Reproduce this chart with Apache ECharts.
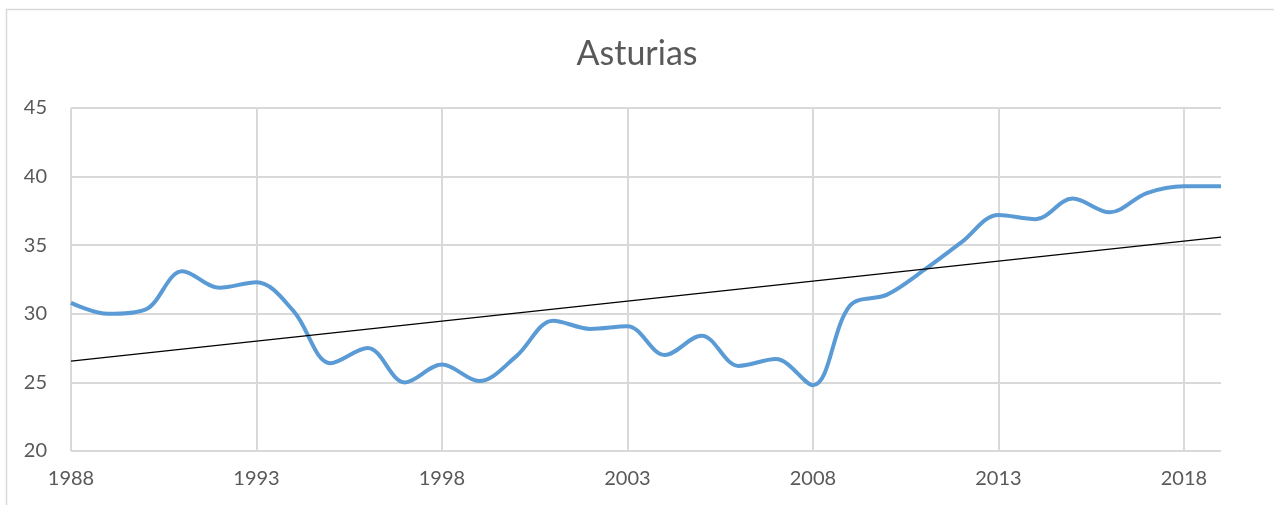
<!DOCTYPE html>
<html>
<head>
<meta charset="utf-8">
<script src="https://cdn.jsdelivr.net/npm/echarts@6/dist/echarts.min.js"></script>
<style>
  html, body { margin: 0; padding: 0; background: #fff; }
  #chart { width: 1274px; height: 505px; }
</style>
</head>
<body>
<div id="chart"></div>
<script>
// years on the category axis
var years = [];
for (var y = 1988; y <= 2019; y++) years.push(String(y));

// values
var asturias = [
    30.8, 30.0, 30.3, 33.1, 31.9, 32.3, 30.2, 26.4, 27.5, 25.0,
    26.3, 25.1, 26.9, 29.5, 28.9, 29.1, 27.0, 28.4, 26.2, 26.7,
    24.8, 30.6, 31.4, 33.2, 35.2, 37.2, 36.9, 38.4, 37.4, 38.8,
    39.3, 39.3
];

var yTicks = [20, 25, 30, 35, 40, 45];

// linear trend (least squares), like the spreadsheet trendline
function linearTrend(vals) {
    var n = vals.length, sx = 0, sy = 0, sxy = 0, sxx = 0;
    for (var i = 0; i < n; i++) {
        sx += i; sy += vals[i]; sxy += i * vals[i]; sxx += i * i;
    }
    var b = (n * sxy - sx * sy) / (n * sxx - sx * sx);
    var a = (sy - b * sx) / n;
    return vals.map(function (v, i) { return +(a + b * i).toFixed(3); });
}

window.onload = function () {
    var chartDom = document.getElementById('chart');
    var myChart = echarts.init(chartDom);
    var font = 'Lato';
    var grey = '#595959';

    var option = {
        animation: false,
        backgroundColor: '#fff',
        graphic: [{
            type: 'rect',
            shape: { x: 6.5, y: 9.5, width: 1400, height: 600 },
            style: { fill: 'none', stroke: '#d9d9d9', lineWidth: 1.5 },
            silent: true
        }],
        title: {
            text: 'Asturias',
            left: 'center',
            top: 32,
            textStyle: { fontFamily: font, fontSize: 34, fontWeight: 'normal', color: grey }
        },
        grid: { left: 71, right: 53, top: 108, bottom: 54 },
        xAxis: {
            type: 'category',
            boundaryGap: false,
            data: years,
            axisLine: { show: false },
            axisTick: { show: false },
            axisLabel: {
                interval: 4,
                margin: 18,
                color: grey,
                fontFamily: font,
                fontSize: 20
            },
            splitLine: {
                show: true,
                interval: 4,
                lineStyle: { color: '#d9d9d9', width: 2 }
            }
        },
        yAxis: {
            type: 'value',
            min: yTicks[0],
            max: yTicks[yTicks.length - 1],
            interval: 5,
            axisLine: { show: false },
            axisTick: { show: false },
            axisLabel: { margin: 24, color: grey, fontFamily: font, fontSize: 20 },
            splitLine: { lineStyle: { color: '#d9d9d9', width: 2 } }
        },
        series: [
            {
                name: 'Asturias',
                type: 'line',
                smooth: 0.35,
                showSymbol: false,
                data: asturias,
                lineStyle: { color: '#5b9bd5', width: 4 },
                z: 3
            },
            {
                name: 'Tendencia',
                type: 'line',
                showSymbol: false,
                data: linearTrend(asturias),
                lineStyle: { color: '#000', width: 1.2 },
                z: 4
            }
        ]
    };

    myChart.setOption(option);
};
</script>
</body>
</html>
